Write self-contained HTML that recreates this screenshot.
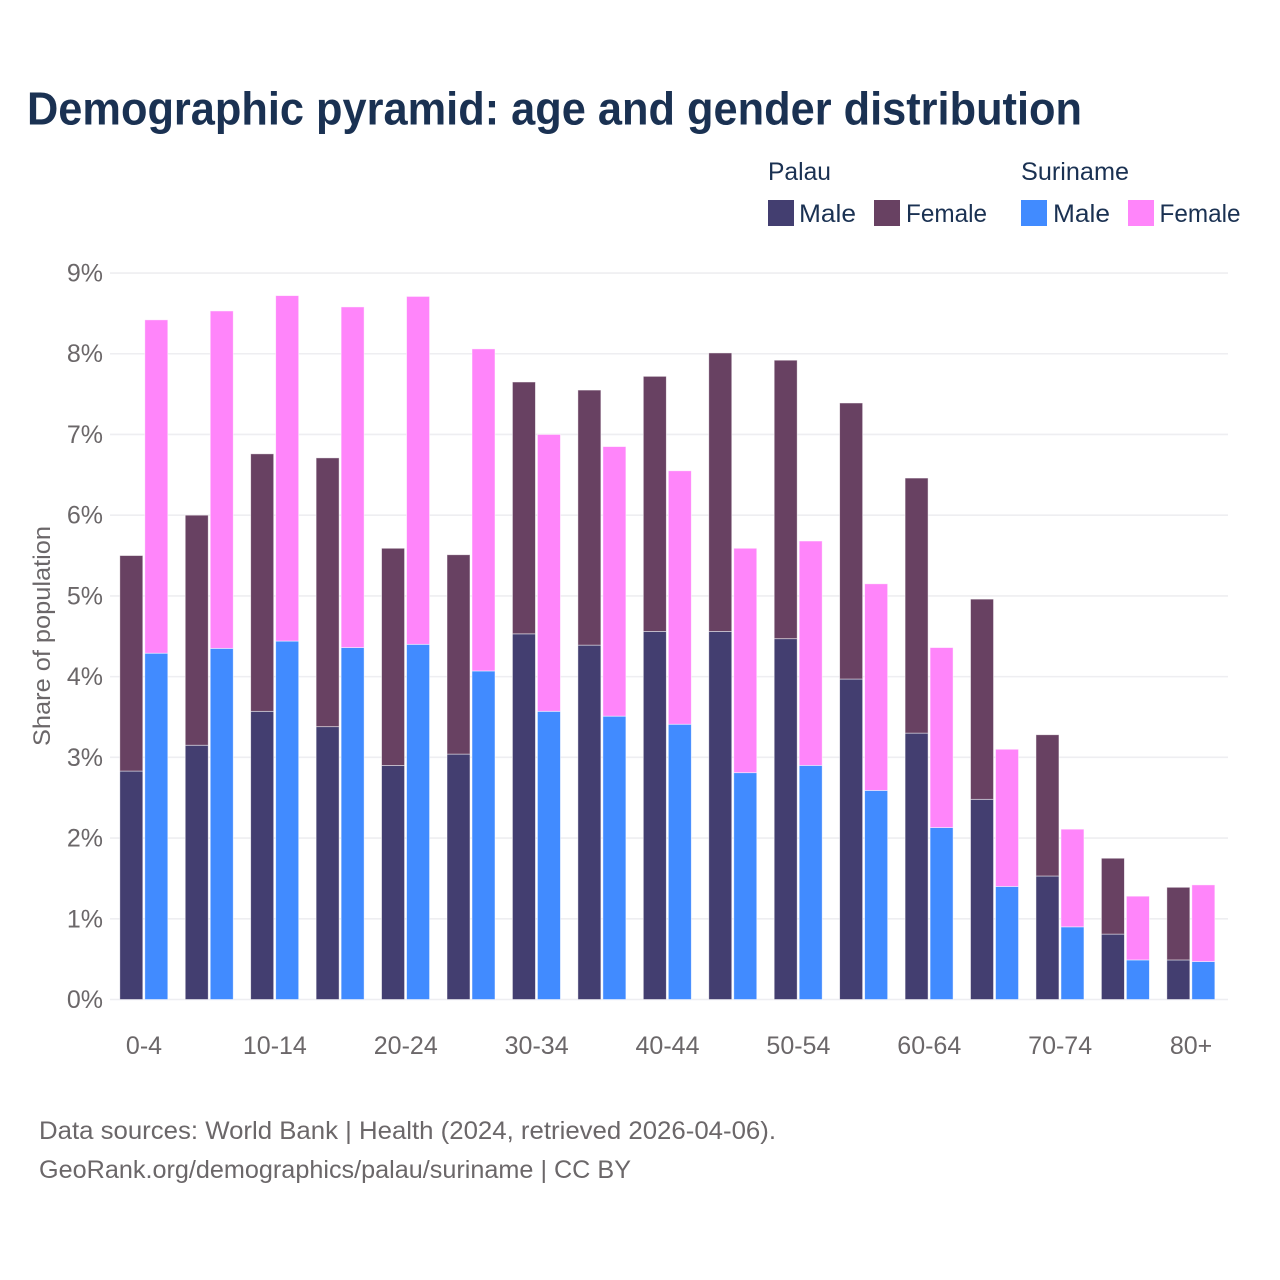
<!DOCTYPE html>
<html lang="en">
<head>
<meta charset="utf-8">
<title>Demographic pyramid: age and gender distribution</title>
<style>
html,body{margin:0;padding:0;background:#fff;width:1280px;height:1280px;overflow:hidden}
svg{display:block;font-family:"Liberation Sans",sans-serif}
</style>
</head>
<body>
<svg id="chart" xmlns="http://www.w3.org/2000/svg" width="1280" height="1280" viewBox="0 0 1280 1280">
  <rect x="0" y="0" width="1280" height="1280" fill="#ffffff"/>
  <text x="27" y="124.5" font-size="46" font-weight="700" fill="#1a3152" textLength="1055" lengthAdjust="spacingAndGlyphs">Demographic pyramid: age and gender distribution</text>

  <g font-size="25" fill="#1a3152">
    <text x="768" y="180" textLength="63" lengthAdjust="spacingAndGlyphs">Palau</text>
    <text x="1021" y="180" textLength="108" lengthAdjust="spacingAndGlyphs">Suriname</text>
    <rect x="768" y="200" width="26" height="26" fill="#433e70"/>
    <text x="799" y="222" textLength="57" lengthAdjust="spacingAndGlyphs">Male</text>
    <rect x="874" y="200" width="26" height="26" fill="#684162"/>
    <text x="906" y="222" textLength="81" lengthAdjust="spacingAndGlyphs">Female</text>
    <rect x="1021" y="200" width="26" height="26" fill="#418bff"/>
    <text x="1053" y="222" textLength="57" lengthAdjust="spacingAndGlyphs">Male</text>
    <rect x="1128" y="200" width="26" height="26" fill="#ff85fa"/>
    <text x="1159.5" y="222" textLength="81" lengthAdjust="spacingAndGlyphs">Female</text>
  </g>

  <g id="grid"></g>
  <g id="bars"></g>
  <g id="y-ticks"></g>
  <g id="x-ticks"></g>

  <text transform="translate(50 636) rotate(-90)" text-anchor="middle" font-size="24" fill="#6b6769" textLength="220" lengthAdjust="spacingAndGlyphs">Share of population</text>

  <g font-size="25" fill="#6b6769">
    <text x="39" y="1139" textLength="737" lengthAdjust="spacingAndGlyphs">Data sources: World Bank | Health (2024, retrieved 2026-04-06).</text>
    <text x="39" y="1178" textLength="592" lengthAdjust="spacingAndGlyphs">GeoRank.org/demographics/palau/suriname | CC BY</text>
  </g>
</svg>
<script>
var ageGroups = ["0-4","5-9","10-14","15-19","20-24","25-29","30-34","35-39","40-44","45-49","50-54","55-59","60-64","65-69","70-74","75-79","80+"];
var palauMale = [2.83,3.15,3.57,3.38,2.90,3.04,4.53,4.39,4.56,4.56,4.47,3.97,3.30,2.48,1.53,0.81,0.49];
var palauFemale = [2.67,2.85,3.19,3.33,2.69,2.47,3.12,3.16,3.16,3.45,3.45,3.42,3.16,2.48,1.75,0.94,0.90];
var surinameMale = [4.29,4.35,4.44,4.36,4.40,4.07,3.57,3.51,3.41,2.81,2.90,2.59,2.13,1.40,0.90,0.49,0.47];
var surinameFemale = [4.13,4.18,4.28,4.22,4.31,3.99,3.43,3.34,3.14,2.78,2.78,2.56,2.23,1.70,1.21,0.79,0.95];
var yTickValues = [0,1,2,3,4,5,6,7,8,9];

var NS = "http://www.w3.org/2000/svg";
function yScale(v) { return 999.5 - v * 80.72; }
function xScale(i) { return 144 + i * 65.44; }

function makeEl(tag, attrs) {
  var el = document.createElementNS(NS, tag);
  for (var k in attrs) { el.setAttribute(k, attrs[k]); }
  return el;
}

var gridG = document.getElementById("grid");
var yTicksG = document.getElementById("y-ticks");
yTickValues.forEach(function (v) {
  var line = makeEl("line", {x1: 110, x2: 1228, y1: yScale(v), y2: yScale(v), stroke: "#eeeef1", "stroke-width": 1.6});
  
  
  gridG.appendChild(line);
  var label = makeEl("text", {x: 103, y: yScale(v) + 8.5, "text-anchor": "end", "font-size": 25, fill: "#6b6769"});
  
  
  label.textContent = v + "%";
  yTicksG.appendChild(label);
});

var xTicksG = document.getElementById("x-ticks");
ageGroups.forEach(function (name, i) {
  if (i % 2 !== 0) { return; }
  var label = makeEl("text", {x: xScale(i), y: 1054, "text-anchor": "middle", "font-size": 25, fill: "#6b6769"});
  
  
  label.textContent = name;
  xTicksG.appendChild(label);
});

var barsG = document.getElementById("bars");
function drawSegment(i, offset, base, value, color) {
  var rect = makeEl("rect", {
    x: xScale(i) + offset,
    y: yScale(base + value),
    width: 23,
    height: yScale(base) - yScale(base + value),
    fill: color,
    stroke: "#ffffff",
    "stroke-opacity": 0.6,
    "stroke-width": 0.8
  });
  
  
  barsG.appendChild(rect);
}
ageGroups.forEach(function (name, i) {
  drawSegment(i, -24.2, 0, palauMale[i], "#433e70");
  drawSegment(i, -24.2, palauMale[i], palauFemale[i], "#684162");
  drawSegment(i, 0.8, 0, surinameMale[i], "#418bff");
  drawSegment(i, 0.8, surinameMale[i], surinameFemale[i], "#ff85fa");
});
</script>
</body>
</html>
